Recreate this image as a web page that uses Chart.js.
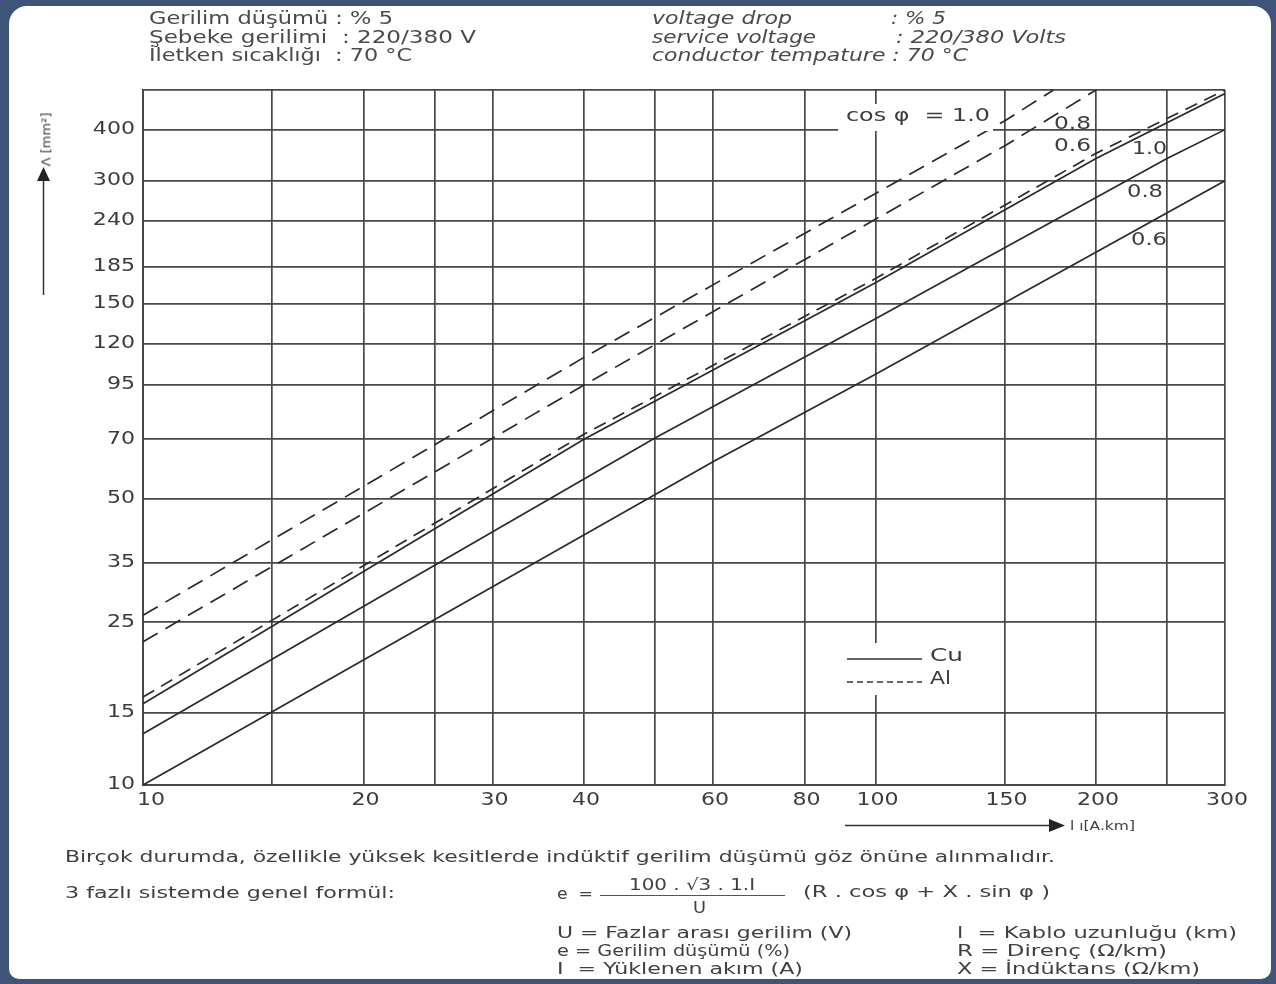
<!DOCTYPE html>
<html>
<head>
<meta charset="utf-8">
<script src="https://cdn.jsdelivr.net/npm/chart.js@4.4.1/dist/chart.umd.min.js"></script>
<style>
  html, body { margin:0; padding:0; }
  body { width:1276px; height:984px; background:#3e5478; position:relative; overflow:hidden; font-family:"DejaVu Sans", sans-serif; }
  #panel { position:absolute; left:9px; top:6px; width:1262px; height:973px; background:#fff; border-radius:18px 18px 10px 10px; }
  #c { position:absolute; left:0; top:0; }
  .t { position:absolute; white-space:pre; color:#404040; transform-origin:0 50%; }
</style>
</head>
<body>
<div id="panel"></div>
<canvas id="c" width="1276" height="984"></canvas>
<script>
// ---------- data ----------
const xTicks  = [10, 15, 20, 25, 30, 40, 50, 60, 80, 100, 150, 200, 250, 300];
const xLabels = [10, 20, 30, 40, 60, 80, 100, 150, 200, 300];
const yTicks  = [10, 15, 25, 35, 50, 70, 95, 120, 150, 185, 240, 300, 400, 500];
const yLabels = [10, 15, 25, 35, 50, 70, 95, 120, 150, 185, 240, 300, 400];

// Cu (solid)
const cu10X = [10, 40, 100, 200, 300];
const cu10Y = [15.8, 70, 169, 340, 490];
const cu08X = [10, 50, 100, 250, 300];
const cu08Y = [13.35, 70.5, 138, 340, 400];
const cu06X = [10, 60, 100, 300];
const cu06Y = [10, 61.7, 101, 300];
// Al (dashed)
const al10X = [10, 40, 150, 175];
const al10Y = [26, 111, 420, 500];
const al08X = [10, 40, 150, 200];
const al08Y = [22.4, 95, 365, 500];
const al06X = [10, 40, 100, 200, 300];
const al06Y = [16.4, 72, 173, 350, 500];

const pts = (xs, ys) => xs.map((x, i) => ({ x: x, y: ys[i] }));

// ---------- stretched text helpers ----------
const FONT = '"DejaVu Sans", sans-serif';
function htmlText(t, x, yc, w, size, italic, color) {
  const s = document.createElement('span');
  s.className = 't';
  s.textContent = t;
  s.style.left = x + 'px';
  s.style.top = (yc - size * 0.6) + 'px';
  s.style.font = (italic ? 'italic ' : '') + size + 'px ' + FONT;
  s.style.lineHeight = (size * 1.2) + 'px';
  if (color) s.style.color = color;
  document.body.appendChild(s);
  const nat = s.getBoundingClientRect().width;
  s.style.transform = 'scaleX(' + (w / nat) + ')';
  return s;
}
function cText(ctx, t, x, yc, opts) {
  ctx.save();
  ctx.font = (opts.size || 16) + 'px ' + FONT;
  ctx.fillStyle = opts.color || '#404040';
  ctx.textBaseline = 'middle';
  ctx.textAlign = 'left';
  const nat = ctx.measureText(t).width;
  const sc = opts.w ? opts.w / nat : (opts.sx || 1.3);
  const w = nat * sc;
  let left = x;
  if (opts.align === 'right') left = x - w;
  else if (opts.align === 'center') left = x - w / 2;
  ctx.translate(left, yc);
  ctx.scale(sc, 1);
  ctx.fillText(t, 0, 0);
  ctx.restore();
}

// ---------- in-chart decorations ----------
const deco = {
  id: 'deco',
  afterDraw(chart) {
    const ctx = chart.ctx;
    const xs = chart.scales.x, ys = chart.scales.y;
    // tick labels
    yLabels.forEach(v => cText(ctx, String(v), xs.left - 8, ys.getPixelForValue(v), { size: 17, sx: 1.3, align: 'right', color: '#3c3c3c' }));
    xLabels.forEach((v, i) => {
      const px = xs.getPixelForValue(v);
      if (i === 0) cText(ctx, String(v), px - 6, ys.bottom + 16, { size: 17, sx: 1.3, align: 'left', color: '#3c3c3c' });
      else cText(ctx, String(v), px + 2, ys.bottom + 16, { size: 17, sx: 1.3, align: 'center', color: '#3c3c3c' });
    });
    // white boxes
    ctx.save();
    ctx.fillStyle = '#fff';
    ctx.fillRect(838, 104, 155, 27);
    ctx.fillRect(840, 643, 128, 52);
    ctx.restore();
    // curve labels
    const lab = [
      ['cos \u03C6  = 1.0', 846, 117, 144],
      ['0.8', 1054, 125, 37],
      ['0.6', 1054, 147, 37],
      ['1.0', 1132, 150, 35],
      ['0.8', 1127, 193, 36],
      ['0.6', 1131, 241, 36],
      ['Cu', 930, 657, 33],
      ['Al', 930, 680, 21]
    ];
    lab.forEach(l => cText(ctx, l[0], l[1], l[2], { size: 17, w: l[3], color: '#3c3c3c' }));
    // legend lines
    ctx.save();
    ctx.strokeStyle = '#333';
    ctx.lineWidth = 1.4;
    ctx.beginPath(); ctx.moveTo(847, 659); ctx.lineTo(922, 659); ctx.stroke();
    ctx.setLineDash([6, 4]);
    ctx.beginPath(); ctx.moveTo(847, 682); ctx.lineTo(922, 682); ctx.stroke();
    ctx.restore();
    // y axis arrow
    ctx.save();
    ctx.strokeStyle = '#333'; ctx.fillStyle = '#222'; ctx.lineWidth = 1.5;
    ctx.beginPath(); ctx.moveTo(43.5, 295); ctx.lineTo(43.5, 178); ctx.stroke();
    ctx.beginPath(); ctx.moveTo(43.5, 167); ctx.lineTo(50, 181); ctx.lineTo(37, 181); ctx.closePath(); ctx.fill();
    // x axis arrow
    ctx.beginPath(); ctx.moveTo(845, 825.5); ctx.lineTo(1050, 825.5); ctx.stroke();
    ctx.beginPath(); ctx.moveTo(1065, 825.5); ctx.lineTo(1049, 819); ctx.lineTo(1049, 832); ctx.closePath(); ctx.fill();
    ctx.restore();
  }
};

const line = (data, dash) => ({
  data: data, showLine: true, pointRadius: 0, borderColor: '#2a2a2a',
  borderWidth: 1.7, borderDash: dash || [], fill: false, tension: 0
});

new Chart(document.getElementById('c'), {
  type: 'scatter',
  data: {
    datasets: [
      line(pts(cu10X, cu10Y)),
      line(pts(cu08X, cu08Y)),
      line(pts(cu06X, cu06Y)),
      line(pts(al10X, al10Y), [17, 9]),
      line(pts(al08X, al08Y), [17, 9]),
      line(pts(al06X, al06Y), [13, 8])
    ]
  },
  options: {
    responsive: false,
    devicePixelRatio: 1,
    animation: false,
    layout: { padding: { left: 143, top: 90, right: 51, bottom: 199 } },
    plugins: { legend: { display: false }, tooltip: { enabled: false } },
    scales: {
      x: {
        type: 'logarithmic', min: 10, max: 300,
        afterBuildTicks: s => { s.ticks = xTicks.map(v => ({ value: v })); },
        afterFit: s => { s.height = 0; },
        ticks: { display: false },
        grid: { color: '#484848', lineWidth: 1.7, drawTicks: false },
        border: { display: true, color: '#484848', width: 2 }
      },
      y: {
        type: 'logarithmic', min: 10, max: 500,
        afterBuildTicks: s => { s.ticks = yTicks.map(v => ({ value: v })); },
        afterFit: s => { s.width = 0; },
        ticks: { display: false },
        grid: { color: '#484848', lineWidth: 1.7, drawTicks: false },
        border: { display: true, color: '#484848', width: 2 }
      }
    }
  },
  plugins: [deco]
});

// ---------- page text ----------
htmlText('Gerilim düşümü : % 5', 149, 18, 244, 17, false, '#4a4a4a');
htmlText('Şebeke gerilimi  : 220/380 V', 149, 37, 327, 17, false, '#4a4a4a');
htmlText('İletken sıcaklığı  : 70 °C', 149, 55, 263, 17, false, '#4a4a4a');

htmlText('voltage drop', 652, 18, 140, 17, true, '#4a4a4a');
htmlText(': % 5', 891, 18, 55, 17, true, '#4a4a4a');
htmlText('service voltage', 652, 37, 164, 17, true, '#4a4a4a');
htmlText(': 220/380 Volts', 896, 37, 170, 17, true, '#4a4a4a');
htmlText('conductor tempature : 70 °C', 652, 55, 316, 17, true, '#4a4a4a');

// y axis title (rotated)
const yt = document.createElement('span');
yt.className = 't';
yt.textContent = 'Λ [mm²]';
yt.style.font = '13px ' + FONT;
yt.style.color = '#404040';
yt.style.left = '19px';
yt.style.top = '132px';
yt.style.transformOrigin = '50% 50%';
yt.style.transform = 'rotate(-90deg)';
document.body.appendChild(yt);

htmlText('l ı[A.km]', 1070, 826, 65, 13, false, '#404040');

htmlText('Birçok durumda, özellikle yüksek kesitlerde indüktif gerilim düşümü göz önüne alınmalıdır.', 65, 857, 990, 16);
htmlText('3 fazlı sistemde genel formül:', 65, 893, 330, 16);
htmlText('e  =', 557, 894, 36, 16);
htmlText('100 . √3 . 1.I', 629, 885, 126, 16);
const fl = document.createElement('div');
fl.style.cssText = 'position:absolute;left:600px;top:895px;width:185px;height:1px;background:#555;';
document.body.appendChild(fl);
htmlText('U', 693, 908, 13, 16);
htmlText('(R . cos φ + X . sin φ )', 803, 892, 247, 16);
htmlText('U = Fazlar arası gerilim (V)', 557, 933, 295, 16);
htmlText('e = Gerilim düşümü (%)', 557, 951, 233, 16);
htmlText('I  = Yüklenen akım (A)', 557, 969, 246, 16);
htmlText('l  = Kablo uzunluğu (km)', 957, 933, 280, 16);
htmlText('R = Direnç (Ω/km)', 957, 951, 210, 16);
htmlText('X = İndüktans (Ω/km)', 957, 969, 243, 16);
</script>
</body>
</html>
